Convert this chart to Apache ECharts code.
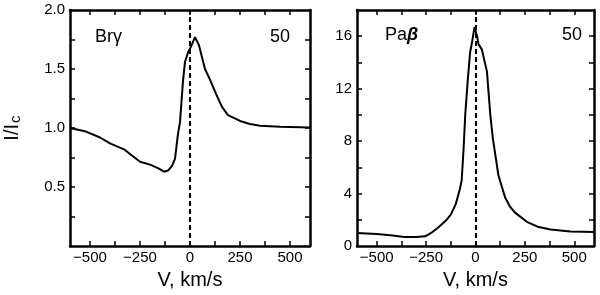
<!DOCTYPE html>
<html><head><meta charset="utf-8">
<script src="https://cdn.jsdelivr.net/npm/echarts@6/dist/echarts.min.js"></script>
<style>html,body{margin:0;padding:0;background:#fff}#c{width:600px;height:295px}</style>
</head><body><div id="c"></div>
<script>
// Br gamma profile (velocity km/s, I/Ic)
const brgV = [-600,-520,-450,-400,-330,-300,-250,-200,-160,-130,-110,-90,-75,-60,-50,-35,-25,-10,5,25,45,75,100,130,160,190,250,300,350,450,600];
const brgI = [1.0,0.97,0.92,0.87,0.82,0.78,0.715,0.69,0.66,0.63,0.64,0.68,0.74,0.95,1.05,1.4,1.56,1.64,1.69,1.77,1.70,1.50,1.41,1.29,1.18,1.11,1.06,1.035,1.02,1.01,1.005];
// Pa beta profile
const pabV = [-600,-500,-420,-360,-300,-255,-220,-190,-150,-125,-100,-80,-70,-60,-52,-40,-27,-18,-5,8,15,32,58,75,88,116,150,175,200,260,320,380,480,600];
const pabI = [1.0,0.93,0.8,0.7,0.7,0.75,1.05,1.4,1.95,2.4,3.2,4.3,5.0,7.5,10.0,12.5,14.8,15.5,16.7,16.0,15.4,15.0,13.3,10.0,8.2,5.4,3.7,3.0,2.55,1.85,1.45,1.26,1.12,1.07];

const xTicks = [-500,-375,-250,-125,0,125,250,375,500];
const xLabels = [-500,-250,0,250,500];
const brgYTicks = [0.25,0.5,0.75,1.0,1.25,1.5,1.75];
const brgYLabels = [0.5,1.0,1.5,2.0];
const pabYTicks = [2,4,6,8,10,12,14,16];
const pabYLabels = [0,4,8,12,16];
const panelTags = ['50','50'];
const xName = 'V, km/s';

const FONT = "'Liberation Sans', Arial, Helvetica, sans-serif";
const fmtX = v => (v < 0 ? '\u2212' + Math.abs(v) : String(v));

function xAxes(gi) {
  const base = {
    type: 'value', gridIndex: gi, min: -600, max: 600,
    axisLine: {show: true, onZero: false, lineStyle: {color: '#000', width: 2.5}},
    axisTick: {show: true, inside: true, length: 5, customValues: xTicks, lineStyle: {color: '#000', width: 1.5}},
    splitLine: {show: false}
  };
  return [
    Object.assign({}, base, {
      position: 'bottom',
      name: xName, nameLocation: 'middle', nameGap: 19,
      nameTextStyle: {fontFamily: FONT, fontSize: 20, color: '#000'},
      axisLabel: {show: true, customValues: xLabels, formatter: fmtX, margin: 4,
        fontFamily: FONT, fontSize: 15, color: '#000'}
    }),
    Object.assign({}, base, {position: 'top', axisLabel: {show: false}})
  ];
}
function yAxes(gi, max, ticks, labels, fmt, withName) {
  const base = {
    type: 'value', gridIndex: gi, min: 0, max: max,
    axisLine: {show: true, onZero: false, lineStyle: {color: '#000', width: 2.5}},
    axisTick: {show: true, inside: true, length: 5, customValues: ticks, lineStyle: {color: '#000', width: 1.5}},
    splitLine: {show: false}
  };
  const left = Object.assign({}, base, {
    position: 'left',
    axisLabel: {show: true, customValues: labels, formatter: fmt, margin: 5,
      fontFamily: FONT, fontSize: 15, color: '#000'}
  });
  if (withName) {
    Object.assign(left, {
      name: 'I/I{s|c}', nameLocation: 'middle', nameGap: 47,
      nameTextStyle: {fontFamily: FONT, fontSize: 20, color: '#000',
        rich: {s: {fontFamily: FONT, fontSize: 15, color: '#000', verticalAlign: 'bottom', padding: [7,0,0,1]}}}
    });
  }
  return [left, Object.assign({}, base, {position: 'right', axisLabel: {show: false}})];
}

const chart = echarts.init(document.getElementById('c'), null, {renderer: 'canvas'});
const lineStyle = {color: '#000', width: 2};
const mark = {
  silent: true, symbol: ['none','none'], label: {show: false},
  lineStyle: {color: '#000', width: 2, type: [5,3]},
  data: [{xAxis: 0}]
};
chart.setOption({
  animation: false,
  backgroundColor: '#fff',
  grid: [
    {left: 70, right: 290, top: 10, bottom: 47},
    {left: 357, right: 6, top: 10, bottom: 47}
  ],
  xAxis: [...xAxes(0), ...xAxes(1)],
  yAxis: [
    ...yAxes(0, 2.0, brgYTicks, brgYLabels, v => v.toFixed(1), true),
    ...yAxes(1, 18, pabYTicks, pabYLabels, v => String(v), false)
  ],
  series: [
    {type: 'line', xAxisIndex: 0, yAxisIndex: 0, data: brgV.map((v,i) => [v, brgI[i]]),
      showSymbol: false, lineStyle: lineStyle, markLine: mark},
    {type: 'line', xAxisIndex: 2, yAxisIndex: 2, data: pabV.map((v,i) => [v, pabI[i]]),
      showSymbol: false, lineStyle: lineStyle, markLine: mark}
  ],
  graphic: [
    {type: 'text', left: 95, top: 28, style: {text: 'Br\u03b3', font: '18px ' + FONT, fill: '#000'}},
    {type: 'text', right: 310, top: 28, style: {text: panelTags[0], font: '18px ' + FONT, fill: '#000'}},
    {type: 'text', left: 385, top: 26, style: {text: 'Pa{b|\u03b2}', font: '18px ' + FONT, fill: '#000',
      rich: {b: {fontFamily: FONT, fontSize: 18, fontStyle: 'italic', fontWeight: 'bold', fill: '#000'}}}},
    {type: 'text', right: 18, top: 26, style: {text: panelTags[1], font: '18px ' + FONT, fill: '#000'}}
  ]
});
</script>
</body></html>
